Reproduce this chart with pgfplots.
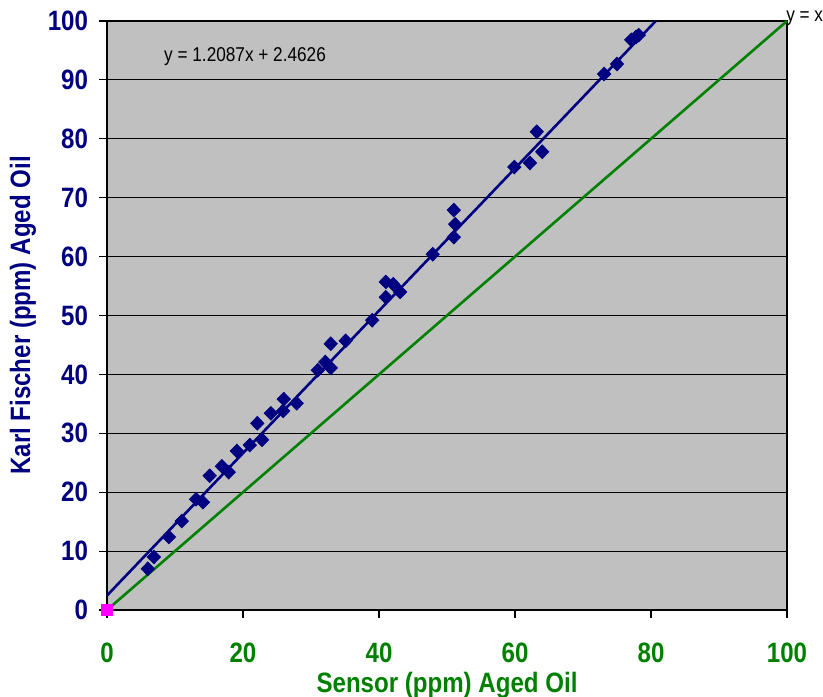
\documentclass[border=0pt]{standalone}
\usepackage{fontspec}
\setmainfont{Liberation Sans}
\newfontfamily\narrowfont[FakeStretch=0.86]{Liberation Sans}
\usepackage{pgfplots}
\pgfplotsset{compat=1.18}
\definecolor{navyc}{RGB}{0,0,128}
\definecolor{greenc}{RGB}{0,128,0}
\definecolor{plotgray}{RGB}{192,192,192}
\definecolor{magc}{RGB}{255,0,255}
\begin{document}
\begin{tikzpicture}
\begin{axis}[
  scale only axis,
  width=340pt, height=294.5pt,
  xmin=0, xmax=100, ymin=0, ymax=100,
  xtick={0,20,...,100}, ytick={0,10,...,100},
  axis background/.style={fill=plotgray},
  ymajorgrids, grid style={black, line width=0.5pt},
  axis line style={black, line width=0.6pt},
  tick align=outside, tick pos=left,
  major tick length=4pt,
  tick style={black, line width=0.6pt},
  /pgf/number format/assume math mode=true,
  xticklabel style={font=\narrowfont\bfseries\fontsize{14}{16}\selectfont, text=greenc, yshift=-9pt},
  yticklabel style={font=\narrowfont\bfseries\fontsize{14}{16}\selectfont, text=navyc, xshift=-2pt},
  xlabel={Sensor (ppm) Aged Oil},
  ylabel={Karl Fischer (ppm) Aged Oil},
  xlabel style={font=\narrowfont\bfseries\fontsize{14}{16}\selectfont, text=greenc, yshift=2pt},
  ylabel style={font=\narrowfont\bfseries\fontsize{14}{16}\selectfont, text=navyc, yshift=-1pt},
  clip=false,
]
\addplot[greenc, line width=1.3pt] coordinates {(0,0) (100,100)};
\addplot[navyc, line width=1.3pt] coordinates {(0,2.4626) (80.7,100)};
\addplot[only marks, mark=diamond*, mark size=3.4pt, mark options={xscale=1.3, navyc, draw=navyc, fill=navyc}] coordinates {
(6.0,7.0) (6.9,9.0) (9.1,12.4) (11.0,15.1) (13.1,18.8) (14.1,18.3)
(15.1,22.8) (16.9,24.4) (17.9,23.4) (19.1,27.0) (21.0,28.0) (22.1,31.7)
(22.8,28.9) (24.1,33.4) (25.9,33.8) (26.0,35.8) (27.9,35.1) (31.0,40.7)
(32.1,42.1) (32.9,41.1) (32.9,45.2) (35.1,45.7) (39.0,49.2) (41.0,53.1)
(41.0,55.7) (42.1,55.3) (43.1,54.0) (47.9,60.4) (51.0,63.3) (51.2,65.5)
(51.0,67.9) (59.9,75.2) (62.2,75.9) (63.2,81.2) (64.0,77.8) (73.1,91.0)
(75.0,92.7) (77.1,96.8) (77.8,97.3) (78.2,97.6)
};
\addplot[only marks, mark=square*, mark size=2.7pt, mark options={draw=magc, fill=magc}] coordinates {(0,0)};
\node[font=\narrowfont\fontsize{10}{12}\selectfont, anchor=center] at (axis cs:20.3,93.9) {y = 1.2087x + 2.4626};
\node[font=\narrowfont\fontsize{10}{12}\selectfont, anchor=center] at (axis cs:102.6,100.5) {y = x};
\end{axis}
\pgfresetboundingbox
\path (current axis.south west) ++(-53.5pt,-43pt) rectangle ([xshift=18pt,yshift=10.5pt]current axis.north east);
\end{tikzpicture}
\end{document}
